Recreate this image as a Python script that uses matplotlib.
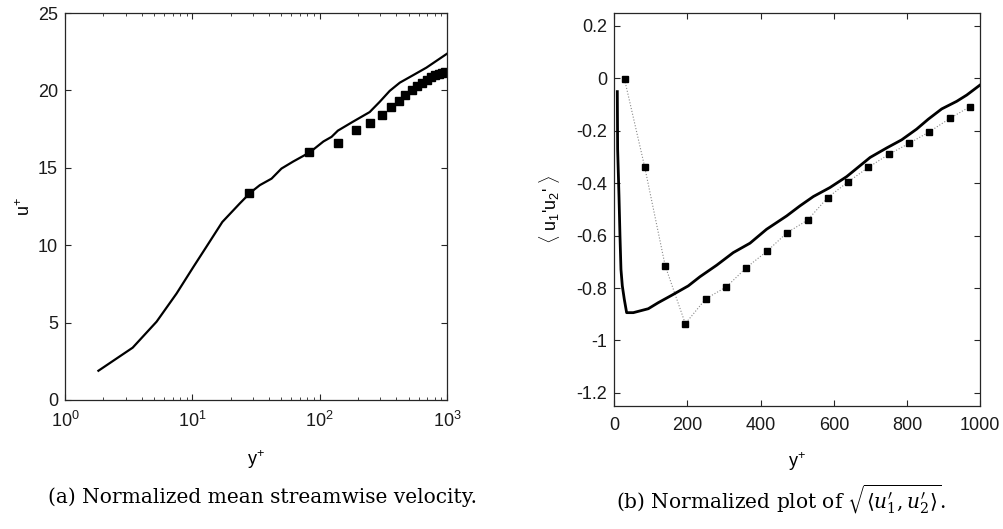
import numpy as np
import matplotlib
matplotlib.use("Agg")
import matplotlib.pyplot as plt
from matplotlib.ticker import LogLocator, NullFormatter, MultipleLocator

plt.rcParams["font.family"] = ["Liberation Sans", "DejaVu Sans"]
plt.rcParams["mathtext.fontset"] = "custom"
plt.rcParams["mathtext.rm"] = "Liberation Sans"
plt.rcParams["mathtext.it"] = "Liberation Sans:italic"

# -- data --
# (a) mean streamwise velocity: simulation line
yp_line = [1.83, 3.4, 5.24, 7.52, 10.2, 12.9, 17.2, 23.6, 28.6, 33.9, 41.9, 50.1,
           61.8, 83.7, 107, 124, 139, 181, 247, 296, 355, 426, 541, 689, 1000]
u_line = [1.89, 3.38, 5.06, 6.88, 8.6, 9.9, 11.5, 12.7, 13.4, 13.88, 14.3, 14.95,
          15.4, 16.0, 16.7, 17.0, 17.4, 17.96, 18.6, 19.26, 19.97, 20.5, 20.98,
          21.47, 22.37]

# reference points (shared y+ for both panels)
yp_pts = [28, 83, 139, 194, 250, 306, 361, 417, 472, 528, 583, 639, 694, 750,
          806, 861, 917, 972]
u_pts = [13.4, 16.0, 16.57, 17.43, 17.9, 18.44, 18.93, 19.32, 19.69, 20.0, 20.29,
         20.5, 20.7, 20.87, 20.98, 21.08, 21.15, 21.2]
uv_pts = [-0.004, -0.338, -0.715, -0.936, -0.841, -0.796, -0.722, -0.66, -0.589,
          -0.541, -0.455, -0.395, -0.340, -0.29, -0.248, -0.204, -0.153, -0.108]

# (b) Reynolds shear stress: simulation line
yp_uv = [8.2, 9.1, 12.8, 15.5, 18.2, 21.9, 27.3, 33.7, 51.9, 92.9, 120, 156.5, 202,
         234, 279.7, 325, 370.8, 416, 471, 507, 544, 589, 635, 699, 744, 785, 826,
         858, 894.5, 935.5, 963, 1000]
uv_line = [-0.051, -0.27, -0.449, -0.601, -0.729, -0.792, -0.843, -0.894, -0.894,
           -0.879, -0.856, -0.828, -0.792, -0.757, -0.713, -0.665, -0.629, -0.576,
           -0.525, -0.487, -0.451, -0.417, -0.375, -0.302, -0.266, -0.235, -0.194,
           -0.156, -0.117, -0.088, -0.064, -0.025]

fig = plt.figure(figsize=(10.04, 5.29), dpi=100)
ax1 = fig.add_axes([65 / 1004, 1 - 400 / 529, 382 / 1004, 387 / 529])
ax2 = fig.add_axes([614.3 / 1004, 1 - 406 / 529, 366 / 1004, 393.3 / 529])

spine_c = "#262626"
for ax in (ax1, ax2):
    for s in ax.spines.values():
        s.set_color(spine_c)
        s.set_linewidth(0.9)
    ax.tick_params(which="both", direction="in", top=True, right=True,
                   colors=spine_c, labelcolor="#1a1a1a", labelsize=13)
    ax.tick_params(which="major", length=4.5, width=0.8)
    ax.tick_params(which="minor", length=2.5, width=0.6)
    ax.tick_params(axis="x", pad=8)
    ax.tick_params(axis="y", pad=5)

# -- panel (a) --
ax1.plot(yp_line, u_line, color="black", lw=1.6)
ax1.plot(yp_pts, u_pts, ls="none", marker="s", ms=5.5, color="black")
ax1.set_xscale("log")
ax1.set_xlim(1, 1000)
ax1.set_ylim(0, 25)
ax1.set_yticks([0, 5, 10, 15, 20, 25])
ax1.xaxis.set_major_locator(LogLocator(base=10, numticks=10))
ax1.xaxis.set_minor_locator(LogLocator(base=10, subs=np.arange(2, 10), numticks=10))
ax1.xaxis.set_minor_formatter(NullFormatter())
ax1.set_xlabel(r"y$^{+}$", fontsize=13, labelpad=12)
ax1.set_ylabel(r"u$^{+}$", fontsize=13, labelpad=3)

# -- panel (b) --
ax2.plot(yp_pts, uv_pts, ls=":", lw=0.8, color="#888888")
ax2.plot(yp_pts, uv_pts, ls="none", marker="s", ms=4.8, color="black")
ax2.plot(yp_uv, uv_line, color="black", lw=2.0)
ax2.set_xlim(0, 1000)
ax2.set_ylim(-1.25, 0.25)
ax2.set_xticks([0, 200, 400, 600, 800, 1000])
ax2.yaxis.set_major_locator(MultipleLocator(0.2))
ax2.yaxis.set_major_formatter(plt.FuncFormatter(
    lambda v, p: "0" if abs(v) < 1e-9 else f"{v:g}"))
ax2.set_xlabel(r"y$^{+}$", fontsize=13, labelpad=12)
ax2.set_ylabel(r"$\langle$ u$_1$'u$_2$' $\rangle$", fontsize=13, labelpad=10)

# -- captions --
fig.text(262.5 / 1004, 1 - 497 / 529, "(a) Normalized mean streamwise velocity.",
         ha="center", va="center", fontsize=14.5, family="DejaVu Serif")
fig.text(780.5 / 1004, 1 - 499 / 529,
         r"(b) Normalized plot of $\sqrt{\langle u^{\prime}_{1}, u^{\prime}_{2}\rangle}$.",
         ha="center", va="center", fontsize=14.5, family="DejaVu Serif",
         math_fontfamily="dejavuserif")

fig.savefig("out.png", dpi=100)
